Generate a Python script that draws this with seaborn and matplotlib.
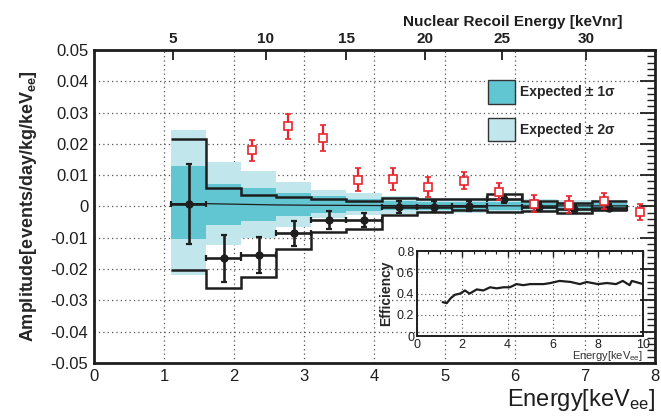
import numpy as np
import matplotlib
matplotlib.use("Agg")
import matplotlib.pyplot as plt
import seaborn as sns
import pandas as pd
from matplotlib.patches import Patch
from matplotlib.ticker import MultipleLocator, FuncFormatter

# ---------------- data ----------------
bin_edges = [1.1, 1.6, 2.1, 2.6, 3.1, 3.6, 4.1, 4.6, 5.1, 5.6, 6.1, 6.6, 7.1, 7.6]
bin_centers = [1.35, 1.85, 2.35, 2.85, 3.35, 3.85, 4.35, 4.85, 5.35, 5.85, 6.35, 6.85, 7.35]

data_amp = [0.0009, -0.0166, -0.0156, -0.0086, -0.0044, -0.0044, -0.0001, -0.0001,
            0.0001, 0.0024, -0.0001, -0.0007, -0.0004]
data_err = [0.0128, 0.0074, 0.0057, 0.0039, 0.0029, 0.0022, 0.0019, 0.0017,
            0.0015, 0.0014, 0.0013, 0.0013, 0.0012]

upper_step = [0.0216, 0.0060, 0.0038, 0.0031, 0.0025, 0.0019, 0.0028, 0.0023,
              0.0023, 0.0041, 0.0017, 0.0012, 0.0017]
lower_step = [-0.0204, -0.0262, -0.0226, -0.0135, -0.0081, -0.0071, -0.0026, -0.0018,
              -0.0012, -0.0018, -0.0015, -0.0020, -0.0010]

two_sig_hi = [0.0243, 0.0142, 0.0112, 0.0077, 0.0054, 0.0042, 0.0032, 0.0028,
              0.0026, 0.0025, 0.0023, 0.0022, 0.0021]
two_sig_lo = [-0.0219, -0.0124, -0.0100, -0.0066, -0.0038, -0.0026, -0.0024, -0.0022,
              -0.0021, -0.0020, -0.0019, -0.0018, -0.0017]
one_sig_hi = [0.0129, 0.0073, 0.0060, 0.0042, 0.0034, 0.0024, 0.0016, 0.0015,
              0.0014, 0.0013, 0.0012, 0.0012, 0.0011]
one_sig_lo = [-0.0105, -0.0060, -0.0047, -0.0031, -0.0020, -0.0014, -0.0012, -0.0011,
              -0.0010, -0.0010, -0.0009, -0.0009, -0.0008]

expected_x = [1.1, 1.6, 2.1, 2.6, 3.1, 4.1, 5.1, 6.1, 7.6]
expected_y = [0.0009, 0.0009, 0.0007, 0.0005, 0.0004, 0.0003, 0.0003, 0.0002, 0.0002]

other_x = [2.26, 2.76, 3.26, 3.77, 4.27, 4.77, 5.27, 5.78, 6.28, 6.78, 7.28, 7.78]
other_amp = [0.0179, 0.0256, 0.0219, 0.0086, 0.0088, 0.0062, 0.0083, 0.0047,
             0.0009, 0.0005, 0.0017, -0.0018]
other_err = [0.0035, 0.0041, 0.0042, 0.0037, 0.0034, 0.0032, 0.0028, 0.0027,
             0.0027, 0.0027, 0.0025, 0.0025]

# nuclear recoil axis calibration (ee position of each nr value)
nr_values = [0, 5, 10, 15, 20, 25, 30, 34]
nr_ee_pos = [0.0, 1.12, 2.45, 3.60, 4.72, 5.82, 7.02, 8.0]
nr_ticks = [5, 10, 15, 20, 25, 30]

eff_energy = [1.13, 1.31, 1.5, 1.68, 1.9, 2.12, 2.32, 2.64, 2.93, 3.23, 3.52, 3.82, 4.1,
              4.4, 4.7, 5.0, 5.3, 5.6, 5.9, 6.3, 6.8, 7.2, 7.5, 8.0, 8.4, 8.8, 9.1,
              9.4, 9.5, 10.0]
eff_value = [0.32, 0.31, 0.36, 0.39, 0.40, 0.43, 0.40, 0.44, 0.43, 0.46, 0.45, 0.46, 0.46,
             0.49, 0.48, 0.49, 0.49, 0.49, 0.50, 0.52, 0.51, 0.49, 0.51, 0.49, 0.50, 0.49,
             0.52, 0.48, 0.52, 0.49]

legend_labels = ["Expected \u00b1 1\u03c3", "Expected \u00b1 2\u03c3"]

# ---------------- style ----------------
sns.set_style("white")
plt.rcParams['font.family'] = ['Liberation Sans', 'DejaVu Sans']
plt.rcParams['mathtext.fontset'] = 'custom'
plt.rcParams['mathtext.rm'] = 'Liberation Sans'
plt.rcParams['mathtext.it'] = 'Liberation Sans:italic'
plt.rcParams['mathtext.bf'] = 'Liberation Sans:bold'
plt.rcParams['mathtext.default'] = 'regular'
plt.rcParams['axes.unicode_minus'] = False

dark = '#62c6d2'
light = '#c1e6ec'
red = '#e8262f'
ink = '#1e1e1e'

fig = plt.figure(figsize=(6.61, 4.18), dpi=100)
ax = fig.add_axes([0.1422, 0.1316, 0.8487, 0.7488])
ax.set_facecolor('white')

# bands
ax.stairs(two_sig_hi, bin_edges, baseline=two_sig_lo, fill=True, color=light, lw=0, zorder=1)
ax.stairs(one_sig_hi, bin_edges, baseline=one_sig_lo, fill=True, color=dark, lw=0, zorder=1.1)

# expected line
ax.plot(expected_x, expected_y, color=ink, lw=0.9, zorder=2)

# step limits
ax.stairs(upper_step, bin_edges, baseline=None, color=ink, lw=1.8, zorder=3)
ax.stairs(lower_step, bin_edges, baseline=None, color=ink, lw=1.8, zorder=3)

# data points
xerr = [(bin_edges[i + 1] - bin_edges[i]) / 2 for i in range(len(bin_centers))]
ax.errorbar(bin_centers, data_amp, yerr=data_err, xerr=xerr, fmt='none', ecolor=ink,
            elinewidth=1.9, capsize=2.2, capthick=1.6, zorder=4)
df_pts = pd.DataFrame({'E': bin_centers, 'A': data_amp})
sns.scatterplot(data=df_pts, x='E', y='A', ax=ax, color=ink, s=36, marker='o',
                edgecolor=ink, linewidth=0, zorder=5, legend=False)

# other experiment (red open squares)
ax.errorbar(other_x, other_amp, yerr=other_err, fmt='s', color=red, mfc='white', mec=red,
            ms=6, mew=1.2, elinewidth=1.6, capsize=2.2, capthick=1.3, zorder=6)

# axes ranges/ticks
ax.set_xlim(0, 8)
ax.set_ylim(-0.05, 0.05)
ax.xaxis.set_major_locator(MultipleLocator(1))
ax.xaxis.set_minor_locator(MultipleLocator(0.2))
ax.yaxis.set_major_locator(MultipleLocator(0.01))
ax.yaxis.set_minor_locator(MultipleLocator(0.002))
ax.yaxis.set_major_formatter(FuncFormatter(lambda v, p: '0' if abs(v) < 1e-9 else f'{v:.2f}'))
ax.tick_params(which='both', direction='in', top=False, right=True, colors=ink, labelsize=12)
ax.tick_params(axis='y', which='major', length=11, width=1.3, pad=4)
ax.tick_params(axis='y', which='minor', length=6, width=1.0)
ax.tick_params(axis='x', which='major', length=7, width=1.3, pad=4)
ax.tick_params(axis='x', which='minor', length=3.5, width=1.0)
ax.grid(True, which='major', color='#555555', lw=0.9, linestyle=(0, (1, 2.5)), zorder=0)
ax.set_axisbelow(True)
for sp in ax.spines.values():
    sp.set_linewidth(2.0)
    sp.set_color(ink)
    sp.set_visible(True)

ax.set_xlabel('')
ax.set_ylabel('Amplitude[events/day/kg/keV$_{ee}$]', fontsize=13, fontweight='bold',
              labelpad=8)
fig.text(0.991, 0.028, 'Energy[keV$_{ee}$]', fontsize=17, ha='right', va='baseline',
         color=ink)

# top nuclear recoil axis
def ee_to_nr(x):
    return np.interp(x, nr_ee_pos, nr_values)

def nr_to_ee(x):
    return np.interp(x, nr_values, nr_ee_pos)

sec = ax.secondary_xaxis('top', functions=(ee_to_nr, nr_to_ee))
sec.set_xticks(nr_ticks)
sec.set_xticklabels([str(t) for t in nr_ticks], fontweight='bold')
sec.tick_params(direction='in', length=7, width=1.3, labelsize=11, pad=3, colors=ink)
sec.xaxis.set_minor_locator(matplotlib.ticker.NullLocator())
fig.text(0.941, 0.938, 'Nuclear Recoil Energy [keVnr]', fontsize=11, fontweight='bold',
         ha='right', va='baseline', color=ink)

# legend
handles = [Patch(facecolor=dark, edgecolor='#333333', lw=1.0),
           Patch(facecolor=light, edgecolor='#333333', lw=1.0)]
leg = ax.legend(handles, legend_labels, loc='upper left', bbox_to_anchor=(0.69, 0.925),
                frameon=False, prop={'weight': 'bold', 'size': 10}, handlelength=1.95,
                handleheight=2.2, labelspacing=1.0, handletextpad=0.35, borderpad=0)

# inset efficiency
ins = fig.add_axes([0.631, 0.196, 0.342, 0.203])
ins.set_facecolor('none')
df_eff = pd.DataFrame({'Energy': eff_energy, 'Efficiency': eff_value})
sns.lineplot(data=df_eff, x='Energy', y='Efficiency', ax=ins, color=ink, lw=1.6)
ins.set_xlim(0, 10)
ins.set_ylim(0, 0.8)
ins.xaxis.set_major_locator(MultipleLocator(2))
ins.xaxis.set_minor_locator(MultipleLocator(0.5))
ins.yaxis.set_major_locator(MultipleLocator(0.2))
ins.yaxis.set_major_formatter(FuncFormatter(lambda v, p: '0' if abs(v) < 1e-9 else f'{v:.1f}'))
ins.tick_params(which='both', direction='in', labelsize=9, colors=ink, top=True)
ins.tick_params(which='major', length=4, width=1.0, pad=2)
ins.tick_params(which='minor', length=2, width=0.8)
ins.grid(True, which='major', color='#555555', lw=0.8, linestyle=(0, (1, 2.5)))
for sp in ins.spines.values():
    sp.set_linewidth(1.4)
    sp.set_color(ink)
    sp.set_visible(True)
ins.set_ylabel('Efficiency', fontsize=10, fontweight='bold', labelpad=3)
ins.set_xlabel('Energy[keV$_{ee}$]', fontsize=8, loc='right', labelpad=-1, color='#333333')

fig.savefig('out.png', dpi=100)
